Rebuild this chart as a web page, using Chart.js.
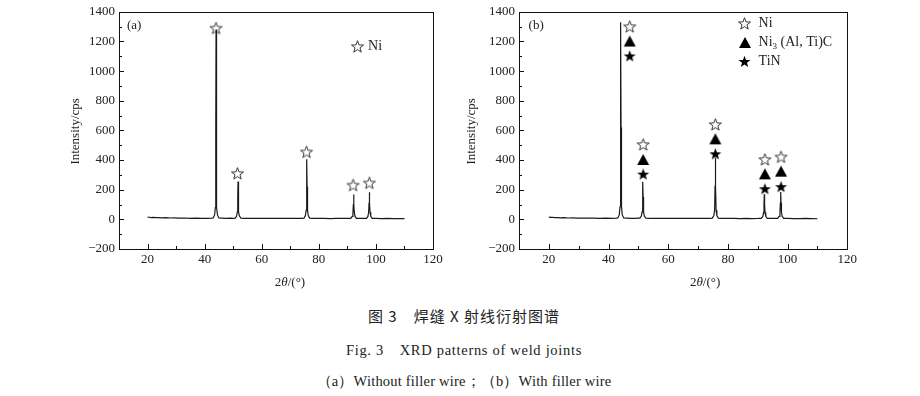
<!DOCTYPE html>
<html lang="zh">
<head>
<meta charset="UTF-8">
<title>XRD patterns of weld joints</title>
<script src="https://cdn.jsdelivr.net/npm/chart.js"></script>
<style>
    body { margin: 0; background: #fff; width: 920px; height: 396px; position: relative; overflow: hidden; }
    .panel { position: absolute; top: 0; height: 300px; }
    #panelA { left: 60px; width: 390px; }
    #panelB { left: 460px; width: 400px; }
    .cap { position: absolute; left: 0; width: 928px; text-align: center; color: #222; white-space: pre; }
    .cn { font-family: "Noto Sans CJK SC", sans-serif; font-size: 15px; letter-spacing: 1px; top: 305px; }
    .en { font-family: "Liberation Serif", serif; font-size: 14.5px; letter-spacing: 0.7px; top: 341px; }
    .en2 { top: 372px; letter-spacing: 0.2px; }
</style>
</head>
<body>
<div class="panel" id="panelA"><canvas id="chartA"></canvas></div>
<div class="panel" id="panelB"><canvas id="chartB"></canvas></div>
<div class="cap cn">图 3　焊缝 X 射线衍射图谱</div>
<div class="cap en">Fig. 3　XRD patterns of weld joints</div>
<div class="cap en en2">（a）Without filler wire；（b）With filler wire</div>
<script>
// (a) without filler wire
const twoThetaA = [20, 20.6, 21.3, 22, 23, 24, 25, 26.5, 28, 29.5, 31, 33, 35, 37, 39, 41, 42.5,
    43.0, 43.5, 43.75, 43.9, 44.0, 44.1, 44.25, 44.5, 45.0,
    46, 47.5, 49, 50,
    50.7, 51.2, 51.45, 51.6, 51.7, 51.8, 51.95, 52.2, 52.7,
    54, 56, 58, 60, 62, 64, 66, 68, 70, 72, 74,
    74.8, 75.3, 75.55, 75.7, 75.8, 75.9, 76.05, 76.3, 76.8,
    78, 80, 82, 84, 86, 88, 90.2,
    91.2, 91.7, 91.95, 92.1, 92.2, 92.3, 92.45, 92.7, 93.2,
    94.2, 95.3, 96.2,
    96.7, 97.2, 97.45, 97.6, 97.7, 97.8, 97.95, 98.2, 98.7,
    100, 102, 104, 106, 108, 110];
const intensityA = [15, 14, 12, 13, 11, 12, 10, 11, 9, 10, 8, 9, 7, 8, 7, 7, 8,
    9, 30, 80, 600, 1280, 600, 80, 30, 9,
    8, 7, 8, 7,
    8, 22, 50, 150, 255, 150, 50, 22, 8,
    7, 6, 7, 6, 7, 6, 6, 7, 6, 6, 7,
    8, 25, 60, 220, 405, 220, 60, 25, 8,
    6, 7, 6, 5, 6, 6, 6,
    7, 20, 45, 100, 168, 100, 45, 20, 7,
    6, 6, 6,
    7, 20, 48, 110, 183, 110, 48, 20, 7,
    6, 5, 6, 5, 5, 5];
const niAx = [44.0, 51.5, 75.7, 92.0, 97.7];
const niAy = [1290, 310, 455, 231, 246];

// (b) with filler wire
const twoThetaB = [20, 20.6, 21.3, 22, 23, 24, 25, 26.5, 28, 29.5, 31, 33, 35, 37, 39, 41, 42.6,
    43.1, 43.6, 43.85, 44.0, 44.1, 44.2, 44.35, 44.6, 45.1,
    46, 47.5, 49, 50,
    50.5, 51.0, 51.25, 51.4, 51.5, 51.6, 51.75, 52.0, 52.5,
    54, 56, 58, 60, 62, 64, 66, 68, 70, 72, 74,
    74.8, 75.3, 75.55, 75.7, 75.8, 75.9, 76.05, 76.3, 76.8,
    78, 80, 82, 84, 86, 88, 90.2,
    91.2, 91.7, 91.95, 92.1, 92.2, 92.3, 92.45, 92.7, 93.2,
    94.2, 95.3, 96.2,
    96.7, 97.2, 97.45, 97.6, 97.7, 97.8, 97.95, 98.2, 98.7,
    100, 102, 104, 106, 108, 110];
const intensityB = [15, 13, 14, 12, 12, 10, 11, 9, 10, 8, 9, 8, 8, 7, 8, 7, 8,
    9, 30, 85, 620, 1330, 620, 85, 30, 9,
    8, 7, 7, 8,
    8, 22, 50, 150, 253, 150, 50, 22, 8,
    7, 6, 6, 7, 6, 6, 7, 6, 6, 6, 7,
    8, 25, 62, 225, 415, 225, 62, 25, 8,
    6, 6, 7, 5, 6, 5, 6,
    7, 20, 46, 102, 170, 102, 46, 20, 7,
    6, 6, 7,
    7, 20, 48, 112, 185, 112, 48, 20, 7,
    6, 5, 5, 6, 5, 4];
const markBx = [47.1, 51.6, 75.8, 92.4, 97.8];
const niBy = [1300, 505, 640, 404, 421];
const ni3By = [1203, 404, 543, 307, 325];
const tinBy = [1102, 305, 442, 206, 220];

const xTicks = [20, 40, 60, 80, 100, 120];
const yTicks = [-200, 0, 200, 400, 600, 800, 1000, 1200, 1400];

const serif = '"Liberation Serif", "Times New Roman", serif';
const ink = '#111';

function starImg(filled) {
    const c = document.createElement('canvas');
    c.width = 15; c.height = 15;
    const g = c.getContext('2d');
    g.beginPath();
    for (let i = 0; i < 10; i++) {
        const r = i % 2 ? 2.6 : 6.3;
        const a = -Math.PI / 2 + i * Math.PI / 5;
        g.lineTo(7.5 + r * Math.cos(a), 8 + r * Math.sin(a));
    }
    g.closePath();
    if (filled) { g.fillStyle = '#000'; g.fill(); }
    else { g.lineWidth = 0.9; g.strokeStyle = '#222'; g.stroke(); }
    return c;
}
function triImg() {
    const c = document.createElement('canvas');
    c.width = 14; c.height = 13;
    const g = c.getContext('2d');
    g.beginPath();
    g.moveTo(7, 1); g.lineTo(13, 12); g.lineTo(1, 12); g.closePath();
    g.fillStyle = '#000'; g.fill();
    return c;
}
const hollowStar = starImg(false);
const solidStar = starImg(true);
const triangle = triImg();

function pts(xs, ys) { return xs.map((x, i) => ({ x: x, y: ys[i] })); }

function markers(xs, ys, img) {
    return { type: 'scatter', data: pts(xs, ys), pointStyle: img, pointRadius: 6,
             pointHoverRadius: 6, showLine: false, borderWidth: 0 };
}

// inward ticks, frame, axis titles, panel label and legend
const decor = {
    id: 'decor',
    afterDraw(chart, args, o) {
        const { ctx, chartArea: a, scales: { x, y } } = chart;
        ctx.save();
        ctx.strokeStyle = ink;
        ctx.lineWidth = 1;
        ctx.beginPath();
        x.ticks.forEach(t => {
            const px = Math.round(x.getPixelForValue(t.value)) + 0.5;
            const len = t.value % 20 === 0 ? 5 : 3;
            ctx.moveTo(px, a.bottom); ctx.lineTo(px, a.bottom - len);
        });
        y.ticks.forEach(t => {
            const py = Math.round(y.getPixelForValue(t.value)) + 0.5;
            const len = t.value % 200 === 0 ? 5 : 3;
            ctx.moveTo(a.left, py); ctx.lineTo(a.left + len, py);
        });
        ctx.stroke();
        ctx.strokeRect(Math.round(a.left) + 0.5, Math.round(a.top) + 0.5,
                       Math.round(a.right - a.left), Math.round(a.bottom - a.top));

        ctx.fillStyle = '#222';
        ctx.textBaseline = 'middle';
        // y title
        ctx.save();
        ctx.translate(a.left - o.yTitleGap, (a.top + a.bottom) / 2 + 1);
        ctx.rotate(-Math.PI / 2);
        ctx.textAlign = 'center';
        ctx.font = '13px ' + serif;
        ctx.fillText('Intensity/cps', 0, 0);
        ctx.restore();
        // x title: 2θ/(°)
        const parts = [['2', '13px '], ['θ', 'italic 13px '], ['/(°)', '13px ']];
        let w = 0;
        parts.forEach(p => { ctx.font = p[1] + serif; w += ctx.measureText(p[0]).width; });
        let cx = (a.left + a.right) / 2 + o.xTitleShift - w / 2;
        ctx.textAlign = 'left';
        parts.forEach(p => {
            ctx.font = p[1] + serif;
            ctx.fillText(p[0], cx, a.bottom + 34);
            cx += ctx.measureText(p[0]).width;
        });
        // panel label
        ctx.font = '13px ' + serif;
        ctx.fillText(o.label, x.getPixelForValue(o.labelAt[0]), y.getPixelForValue(o.labelAt[1]));
        // legend
        o.legend.forEach((item, i) => {
            const sx = x.getPixelForValue(o.legendAt[0]);
            const sy = y.getPixelForValue(o.legendAt[1]) + i * 19;
            ctx.drawImage(item.img, Math.round(sx - item.img.width / 2), Math.round(sy - item.img.height / 2));
            let tx = sx + o.legendGap;
            item.text.forEach(seg => {
                ctx.font = (seg.sub ? '9px ' : '14px ') + serif;
                ctx.fillText(seg.t, tx, sy + (seg.sub ? 4 : 0));
                tx += ctx.measureText(seg.t).width;
            });
        });
        ctx.restore();
    }
};

function makeChart(id, xs, ys, markerSets, opts) {
    return new Chart(document.getElementById(id), {
        type: 'line',
        data: {
            datasets: [{
                data: pts(xs, ys),
                borderColor: '#1a1a1a',
                borderWidth: 1.2,
                pointRadius: 0,
                tension: 0,
                fill: false
            }].concat(markerSets)
        },
        options: {
            responsive: true,
            maintainAspectRatio: false,
            animation: false,
            layout: { padding: { top: 11, right: opts.rightPad, left: 0, bottom: 0 } },
            plugins: { legend: { display: false }, tooltip: { enabled: false }, decor: opts },
            scales: {
                x: {
                    type: 'linear', min: 10, max: 120,
                    afterFit(s) { s.height = 51; },
                    afterBuildTicks(s) { s.ticks = []; for (let v = 10; v <= 120; v += 10) s.ticks.push({ value: v }); },
                    grid: { display: false, drawTicks: false },
                    border: { display: false },
                    ticks: {
                        autoSkip: false, maxRotation: 0, padding: 3, color: '#222',
                        font: { family: serif, size: 13 },
                        callback: v => xTicks.includes(v) ? String(v) : ''
                    }
                },
                y: {
                    min: -200, max: 1400,
                    afterFit(s) { s.width = 59; },
                    afterBuildTicks(s) { s.ticks = []; for (let v = -200; v <= 1400; v += 100) s.ticks.push({ value: v }); },
                    grid: { display: false, drawTicks: false },
                    border: { display: false },
                    ticks: {
                        autoSkip: false, padding: 4, color: '#222',
                        font: { family: serif, size: 13 },
                        callback: v => yTicks.includes(v) ? (v < 0 ? '\u2212' + Math.abs(v) : String(v)) : ''
                    }
                }
            }
        },
        plugins: [decor]
    });
}

makeChart('chartA', twoThetaA, intensityA, [markers(niAx, niAy, hollowStar)], {
    rightPad: 17,
    yTitleGap: 43, xTitleShift: 14,
    label: '(a)', labelAt: [12.8, 1308],
    legendAt: [93.4, 1165], legendGap: 11,
    legend: [{ img: hollowStar, text: [{ t: 'Ni' }] }]
});

makeChart('chartB', twoThetaB, intensityB, [
    markers(markBx, niBy, hollowStar),
    markers(markBx, ni3By, triangle),
    markers(markBx, tinBy, solidStar)
], {
    rightPad: 11,
    yTitleGap: 47, xTitleShift: 22,
    label: '(b)', labelAt: [13.2, 1308],
    legendAt: [85.6, 1320], legendGap: 14,
    legend: [
        { img: hollowStar, text: [{ t: 'Ni' }] },
        { img: triangle, text: [{ t: 'Ni' }, { t: '3', sub: true }, { t: ' (Al, Ti)C' }] },
        { img: solidStar, text: [{ t: 'TiN' }] }
    ]
});
</script>
</body>
</html>
